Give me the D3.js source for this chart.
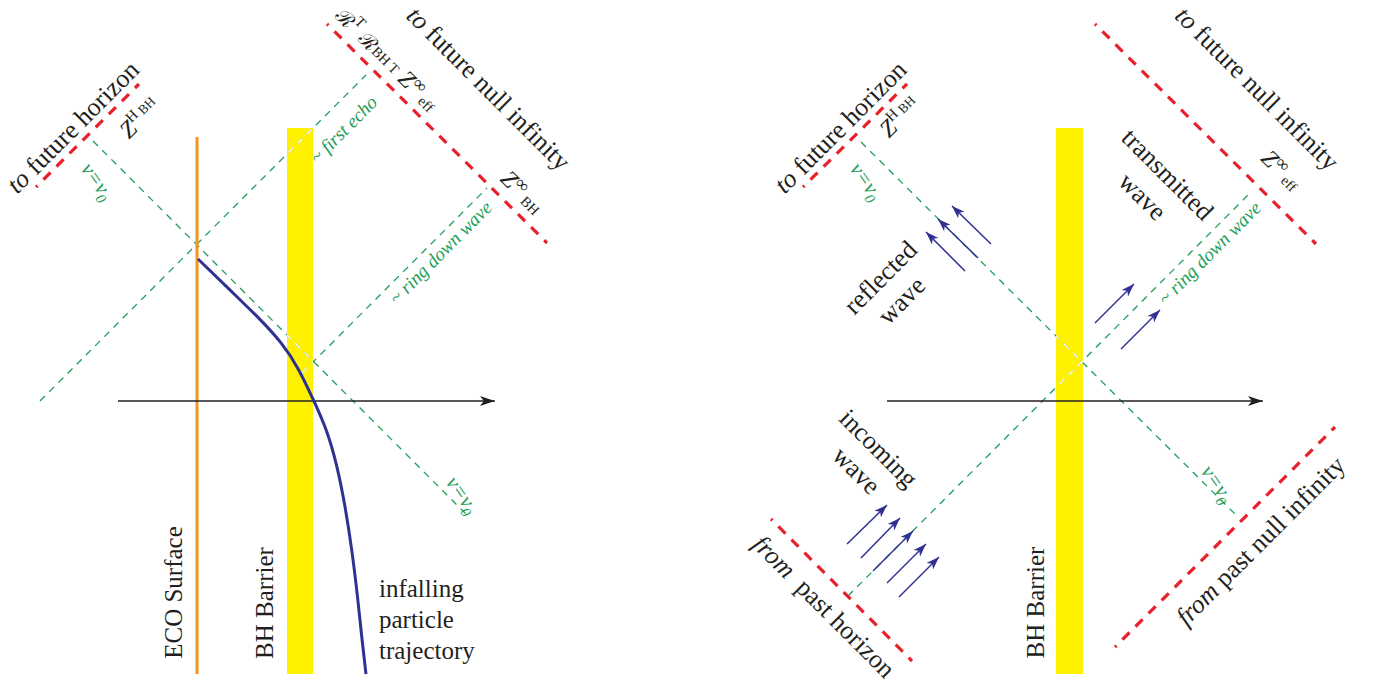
<!DOCTYPE html>
<html><head><meta charset="utf-8">
<script src="https://cdn.jsdelivr.net/npm/d3@7"></script>
<style>
html,body{margin:0;padding:0;background:#fff;}
svg{display:block;}
text{font-family:"Liberation Serif","Times New Roman",serif;white-space:pre;}
</style></head><body>
<svg id="chart" width="1375" height="686"></svg>
<script>
// ---------------- DATA (tortoise coordinate r*, time t) ----------------
// Left panel (echo from an ECO): r* = 0 at the ECO surface
const ecoSurface = [[0, -27.3], [0, 26.4]];
const barrierLeft = [9.0, 11.6];          // r* extent of BH barrier
const barrierT = [-27.3, 27.3];           // t extent of both barriers
const axisLeft = [-7.9, 29.8];            // r* extent of time-slice axis
const trajectoryR = [0.1, 3.5, 6.4, 8.5, 10.1, 11.7, 13.0, 14.0, 14.8, 15.5, 16.1, 16.5, 16.9];
const trajectoryT = [14.2, 10.9, 8.1, 5.8, 3.4, 0.0, -2.9, -6.4, -10.4, -14.9, -19.9, -23.9, -27.3];
const rayV0Left = [[-10.4, 26.0], [27.0, -11.4]];
const rayEchoLeft = [[-15.7, 0.0], [16.9, 32.6]];
const rayRingdownLeft = [[10.5, 2.8], [29.0, 21.3]];
const futureHorizonLeft = [[-16.1, 21.4], [-5.8, 31.7]];
const futureScriLeft = [[13.0, 37.7], [35.0, 15.8]];

// Right panel (scattering off the BH barrier): r* = 0 at barrier centre
const barrierRight = [-1.35, 1.35];
const axisRight = [-18.25, 19.35];
const rayV0Right = [[-20.85, 25.9], [16.75, -11.5]];
const rayInRight = [[-22.15, -19.5], [18.05, 20.8]];
const futureHorizonRight = [[-26.65, 21.4], [-16.25, 31.7]];
const futureScriRight = [[2.55, 37.7], [24.65, 15.7]];
const pastHorizonRight = [[-29.85, -11.8], [-15.75, -26.0]];
const pastScriRight = [[4.55, -24.6], [26.55, -2.6]];
const reflectedArrows = [[[-7.85, 15.7], [-11.75, 19.5]], [[-9.15, 14.3], [-13.15, 18.2]], [[-10.45, 13.0], [-14.35, 16.9]]];
const transmittedArrows = [[[2.55, 7.8], [6.45, 11.7]], [[5.15, 5.2], [9.05, 9.1]]];
const incomingArrows = [[[-22.25, -14.3], [-18.25, -10.4]], [[-20.85, -15.7], [-16.95, -11.7]], [[-19.65, -17.0], [-15.65, -13.0]], [[-18.25, -18.2], [-14.35, -14.3]], [[-17.05, -19.6], [-13.05, -15.6]]];

// ---------------- SCALES ----------------
const yS = d3.scaleLinear().domain([-28, 40]).range([681, 1]);
const xL = d3.scaleLinear().domain([-16, 22]).range([37, 417]);
const xR = d3.scaleLinear().domain([-20, 30]).range([869.5, 1369.5]);

// ---------------- STYLE ----------------
const RED = "#e8202a", GREEN = "#1e9e57", NAVY = "#2e3192", ORANGE = "#f7941d", YELLOW = "#fff200", INK = "#231f20";

const svg = d3.select("#chart");
const defs = svg.append("defs");
defs.append("marker").attr("id", "navyHead").attr("viewBox", "-14 -6 15 12")
  .attr("refX", 0).attr("refY", 0).attr("markerWidth", 15).attr("markerHeight", 12)
  .attr("markerUnits", "userSpaceOnUse").attr("orient", "auto")
  .append("path").attr("d", "M0,0 L-13,-4.6 L-9.5,0 L-13,4.6 Z").attr("fill", NAVY);
defs.append("marker").attr("id", "inkHead").attr("viewBox", "-16 -6 17 12")
  .attr("refX", 0).attr("refY", 0).attr("markerWidth", 17).attr("markerHeight", 12)
  .attr("markerUnits", "userSpaceOnUse").attr("orient", "auto")
  .append("path").attr("d", "M0,0 L-15,-5 L-11,0 L-15,5 Z").attr("fill", INK);

function addClip(id, xs, rr) {
  defs.append("clipPath").attr("id", id).append("rect")
    .attr("x", xs(rr[0])).attr("width", xs(rr[1]) - xs(rr[0]))
    .attr("y", yS(barrierT[1])).attr("height", yS(barrierT[0]) - yS(barrierT[1]));
}
addClip("clipL", xL, barrierLeft);
addClip("clipR", xR, barrierRight);

function barrier(xs, rr) {
  svg.append("rect").attr("x", xs(rr[0])).attr("width", xs(rr[1]) - xs(rr[0]))
    .attr("y", yS(barrierT[1])).attr("height", yS(barrierT[0]) - yS(barrierT[1]))
    .attr("fill", YELLOW);
}
function seg(g, pts, xs) {
  return g.append("line").attr("x1", xs(pts[0][0])).attr("y1", yS(pts[0][1]))
    .attr("x2", xs(pts[1][0])).attr("y2", yS(pts[1][1]));
}
function greenRays(rays, xs, clip) {
  const g = svg.append("g").attr("stroke", GREEN).attr("stroke-width", 1.3).attr("stroke-dasharray", "7 6").attr("fill", "none");
  rays.forEach(r => seg(g, r, xs));
  const w = svg.append("g").attr("clip-path", `url(#${clip})`).attr("stroke", "#fff").attr("stroke-width", 1.4).attr("stroke-dasharray", "7 6");
  rays.forEach(r => seg(w, r, xs));
}
function redLines(lines, xs) {
  const g = svg.append("g").attr("stroke", RED).attr("stroke-width", 3.2).attr("stroke-dasharray", "10 8.5").attr("stroke-dashoffset", 8);
  lines.forEach(r => seg(g, r, xs));
}
function axis(xs, ext) {
  svg.append("line").attr("x1", xs(ext[0])).attr("x2", xs(ext[1]) - 0.1).attr("y1", yS(0)).attr("y2", yS(0))
    .attr("stroke", INK).attr("stroke-width", 1.5).attr("marker-end", "url(#inkHead)");
}
function arrows(list, xs) {
  const g = svg.append("g").attr("stroke", NAVY).attr("stroke-width", 1.5);
  list.forEach(a => seg(g, a, xs).attr("marker-end", "url(#navyHead)"));
}

// ---- left panel ----
barrier(xL, barrierLeft);
greenRays([rayV0Left, rayEchoLeft, rayRingdownLeft], xL, "clipL");
redLines([futureHorizonLeft, futureScriLeft], xL);
svg.append("line").attr("x1", xL(ecoSurface[0][0])).attr("x2", xL(ecoSurface[1][0]))
  .attr("y1", yS(ecoSurface[0][1])).attr("y2", yS(ecoSurface[1][1]))
  .attr("stroke", ORANGE).attr("stroke-width", 3);
axis(xL, axisLeft);
const traj = trajectoryR.map((r, i) => [r, trajectoryT[i]]);
svg.append("path").attr("d", d3.line().x(d => xL(d[0])).y(d => yS(d[1])).curve(d3.curveBasis)(traj))
  .attr("fill", "none").attr("stroke", NAVY).attr("stroke-width", 3);

// ---- right panel ----
barrier(xR, barrierRight);
greenRays([rayV0Right, rayInRight], xR, "clipR");
redLines([futureHorizonRight, futureScriRight, pastHorizonRight, pastScriRight], xR);
axis(xR, axisRight);
arrows(reflectedArrows, xR);
arrows(transmittedArrows, xR);
arrows(incomingArrows, xR);

// ---------------- LABELS ----------------
const I = t => ({t, it: true});
const R = t => ({t});
const SUP = (t, fs = 0.62, sh = -0.42) => ({t, fs, sh});
const SUB = (t, fs = 0.62, sh = 0.12) => ({t, fs, sh});
const SCR = t => ({t, f: "DejaVu Serif", fs: 0.85});

const labels = [
  // left panel
  {p: "L", at: [-12.35, 27.35], rot: -45, size: 26, parts: [I("to"), R(" future horizon")]},
  {p: "L", at: [-5.7, 28.25], rot: -45, size: 24, parts: [I("Z"), SUP("H"), SUP(" BH", 0.55, -0.3)]},
  {p: "L", at: [-10.0, 21.95], rot: 55, size: 21, color: GREEN, parts: [I("v=v"), {t: "0", it: true, fs: 0.7, sh: 0.25}]},
  {p: "L", at: [14.7, 27.1], rot: -45, size: 19, color: GREEN, parts: [I("~ first echo")]},
  {p: "L", at: [24.4, 14.8], rot: -45, size: 19, color: GREEN, parts: [I("~ ring down wave")]},
  {p: "L", at: [29.1, 31.2], rot: 45, size: 26, parts: [I("to"), R(" future null infinity")]},
  {p: "L", at: [18.95, 34.15], rot: 45, size: 24, parts: [SCR("ℛ"), SUP("T"), R(" "), SCR("ℛ"), SUB("BH T", 0.6, -0.05), R(" "), I("Z"), SUP("∞", 0.75, -0.3), SUB(" eff", 0.6, 0.05)]},
  {p: "L", at: [32.5, 20.85], rot: 45, size: 24, parts: [I("Z"), SUP("∞", 0.75, -0.3), SUB(" BH", 0.6, 0.05)]},
  {p: "L", at: [26.5, -9.4], rot: 55, size: 21, color: GREEN, parts: [I("v=v"), {t: "0", it: true, fs: 0.7, sh: 0.25}]},
  {p: "L", at: [-2.25, -19.15], rot: -90, size: 25, parts: [R("ECO Surface")]},
  {p: "L", at: [6.8, -20.2], rot: -90, size: 25, parts: [R("BH Barrier")]},
  {p: "L", at: [18.2, -19.6], rot: 0, size: 25, anchor: "start", base: true, parts: [R("infalling")]},
  {p: "L", at: [18.2, -22.7], rot: 0, size: 25, anchor: "start", base: true, parts: [R("particle")]},
  {p: "L", at: [18.2, -25.8], rot: 0, size: 25, anchor: "start", base: true, parts: [R("trajectory")]},
  // right panel
  {p: "R", at: [-22.85, 27.35], rot: -45, size: 26, parts: [I("to"), R(" future horizon")]},
  {p: "R", at: [-16.95, 28.35], rot: -45, size: 24, parts: [I("Z"), SUP("H"), SUP(" BH", 0.55, -0.3)]},
  {p: "R", at: [-20.35, 21.95], rot: 55, size: 21, color: GREEN, parts: [I("v=v"), {t: "0", it: true, fs: 0.7, sh: 0.25}]},
  {p: "R", at: [-18.85, 12.3], rot: -45, size: 26, parts: [R("reflected")]},
  {p: "R", at: [-16.75, 10.0], rot: -45, size: 26, parts: [R("wave")]},
  {p: "R", at: [9.75, 22.6], rot: 45, size: 26, parts: [R("transmitted")]},
  {p: "R", at: [7.25, 20.4], rot: 45, size: 26, parts: [R("wave")]},
  {p: "R", at: [21.15, 23.05], rot: 45, size: 24, parts: [I("Z"), SUP("∞", 0.75, -0.3), SUB(" eff", 0.6, 0.05)]},
  {p: "R", at: [18.7, 31.2], rot: 45, size: 26, parts: [I("to"), R(" future null infinity")]},
  {p: "R", at: [14.05, 14.75], rot: -45, size: 19, color: GREEN, parts: [I("~ ring down wave")]},
  {p: "R", at: [-19.15, -4.8], rot: 45, size: 26, parts: [R("incoming")]},
  {p: "R", at: [-21.35, -7.0], rot: 45, size: 26, parts: [R("wave")]},
  {p: "R", at: [14.75, -8.3], rot: 55, size: 21, color: GREEN, parts: [I("v=v"), {t: "0", it: true, fs: 0.7, sh: 0.25}]},
  {p: "R", at: [19.15, -14.05], rot: -45, size: 26, parts: [I("from"), R(" past null infinity")]},
  {p: "R", at: [-24.6, -20.6], rot: 45, size: 26, parts: [I("from"), R("  past horizon")]},
  {p: "R", at: [-3.35, -20.15], rot: -90, size: 25, parts: [R("BH Barrier")]}
];

labels.forEach(l => {
  const xs = l.p === "L" ? xL : xR;
  const g = svg.append("g").attr("transform", `translate(${xs(l.at[0])},${yS(l.at[1])}) rotate(${l.rot})`);
  const txt = g.append("text").attr("font-size", l.size).attr("fill", l.color || INK)
    .attr("text-anchor", l.anchor || "middle").attr("y", l.base ? 0 : l.size * 0.3);
  let cur = 0;
  l.parts.forEach(p => {
    const shift = (p.sh || 0) * l.size;
    const ts = txt.append("tspan").text(p.t);
    if (shift !== cur) ts.attr("dy", shift - cur);
    cur = shift;
    if (p.fs) ts.attr("font-size", l.size * p.fs);
    if (p.it) ts.attr("font-style", "italic");
    if (p.f) ts.attr("font-family", p.f);
  });
});
</script>
</body></html>
